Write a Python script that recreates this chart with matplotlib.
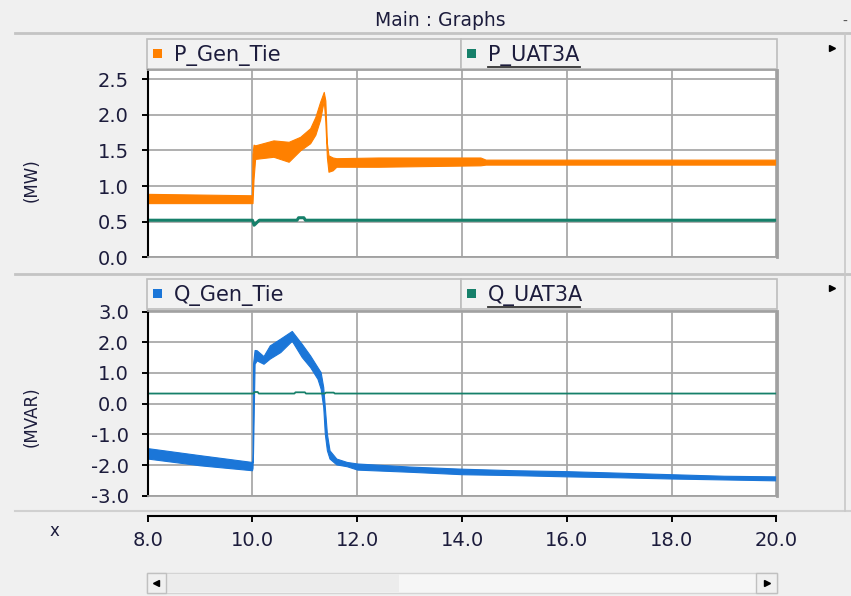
import matplotlib
matplotlib.use("Agg")
import matplotlib.pyplot as plt
from matplotlib.patches import Rectangle

# P_Gen_Tie (MW): banda inferior / superior de la senal
t_pgen = [8.0, 9.99, 10.0, 10.02, 10.05, 10.4, 10.69, 10.91, 11.1, 11.2, 11.29, 11.36,
          11.39, 11.42, 11.45, 11.53, 11.6, 12.4, 14.35, 14.45, 20.0]
pgen_lo = [0.76, 0.76, 0.76, 1.10, 1.38, 1.41, 1.34, 1.50, 1.60, 1.72, 1.93, 2.20,
           1.90, 1.40, 1.20, 1.22, 1.27, 1.27, 1.29, 1.30, 1.30]
pgen_hi = [0.89, 0.87, 1.45, 1.58, 1.57, 1.64, 1.62, 1.69, 1.81, 1.97, 2.18, 2.32,
           2.20, 1.60, 1.43, 1.40, 1.39, 1.40, 1.40, 1.37, 1.37]

# P_UAT3A (MW)
t_puat = [8.0, 10.0, 10.03, 10.06, 10.1, 10.13, 10.85, 10.88, 10.98, 11.01, 20.0]
puat = [0.52, 0.52, 0.45, 0.47, 0.50, 0.52, 0.52, 0.555, 0.555, 0.52, 0.52]

# Q_Gen_Tie (MVAR)
t_qgen = [8.0, 9.0, 9.99, 10.0, 10.01, 10.04, 10.08, 10.21, 10.33, 10.53, 10.75, 10.94,
          11.1, 11.24, 11.3, 11.35, 11.38, 11.42, 11.47, 11.6, 11.8, 12.0, 13.0, 14.0,
          15.0, 16.0, 17.0, 18.0, 19.0, 20.0]
qgen_lo = [-1.79, -2.01, -2.17, -2.10, -1.60, 1.30, 1.41, 1.30, 1.47, 1.68, 2.05, 1.52,
           1.19, 0.81, 0.49, -0.11, -0.98, -1.52, -1.79, -1.98, -2.04, -2.15, -2.22, -2.30,
           -2.33, -2.37, -2.40, -2.44, -2.47, -2.50]
qgen_hi = [-1.45, -1.68, -1.90, -1.90, 1.30, 1.75, 1.74, 1.55, 1.90, 2.12, 2.37, 1.95,
           1.57, 1.19, 1.03, 0.54, -0.11, -0.98, -1.52, -1.79, -1.90, -1.95, -2.05, -2.12,
           -2.17, -2.20, -2.25, -2.30, -2.35, -2.37]

# Q_UAT3A (MVAR)
t_quat = [8.0, 10.02, 10.04, 10.1, 10.12, 10.8, 10.82, 11.0, 11.02, 11.38, 11.4, 11.55, 11.57, 20.0]
quat = [0.33, 0.33, 0.38, 0.38, 0.33, 0.33, 0.37, 0.37, 0.33, 0.33, 0.36, 0.36, 0.33, 0.33]

x_ticks = [8.0, 10.0, 12.0, 14.0, 16.0, 18.0, 20.0]
p_ticks = [0.0, 0.5, 1.0, 1.5, 2.0, 2.5]
q_ticks = [-3.0, -2.0, -1.0, 0.0, 1.0, 2.0, 3.0]

c_orange = '#ff8000'
c_green = '#16806a'
c_blue = '#1b76d8'
c_text = '#1c1c3c'
c_grid = '#a9a9a9'
c_bg = '#f0f0f0'

W, H = 851, 596
fig = plt.figure(figsize=(W / 100, H / 100), dpi=100, facecolor=c_bg)


def box(left, top, right, bottom):
    return [left / W, 1 - bottom / H, (right - left) / W, (bottom - top) / H]


# fondo de la ventana (coordenadas en pixeles)
bg = fig.add_axes([0, 0, 1, 1], zorder=0)
bg.set_xlim(0, W)
bg.set_ylim(H, 0)
bg.axis('off')

bg.text(440, 20, "Main : Graphs", ha='center', va='center', fontsize=13.5, color=c_text)
bg.plot([15, W], [33, 33], color='#c4c4c4', lw=2)
bg.plot([15, W], [274, 274], color='#c4c4c4', lw=2)
bg.plot([15, W], [511, 511], color='#d0d0d0', lw=1.5)
bg.plot([845, 845], [33, 511], color='#c8c8c8', lw=1.2)
bg.text(845, 22, "-", ha='center', va='center', fontsize=10, color='#555555')


def legend_bar(top, names, colors, underline):
    edges = [147, 461, 777]
    for i in range(2):
        bg.add_patch(Rectangle((edges[i], top), edges[i + 1] - edges[i], 30,
                               facecolor='#f2f2f2', edgecolor='#bdbdbd', lw=1.2))
        x0 = edges[i] + 6
        bg.add_patch(Rectangle((x0, top + 10), 9, 9, facecolor=colors[i], edgecolor='none'))
        bg.text(x0 + 21, top + 16, names[i], ha='left', va='center', fontsize=15, color=c_text)
        if underline[i]:
            bg.plot([x0 + 21, x0 + 113], [top + 28, top + 28], color='#333333', lw=1.3)
    bg.plot([832], [top + 9], marker='>', color='black', ms=5)


legend_bar(39, ["P_Gen_Tie", "P_UAT3A"], [c_orange, c_green], [False, True])
legend_bar(279, ["Q_Gen_Tie", "Q_UAT3A"], [c_blue, c_green], [False, True])

bg.text(32, 180, "(MW)", rotation=90, ha='center', va='center', fontsize=12, color=c_text)
bg.text(32, 417, "(MVAR)", rotation=90, ha='center', va='center', fontsize=12, color=c_text)
bg.text(54, 531, "x", ha='center', va='center', fontsize=12, color=c_text)

# barra de desplazamiento
bg.add_patch(Rectangle((147, 573), 630, 20, facecolor='#f6f6f6', edgecolor='#d4d4d4', lw=1))
bg.add_patch(Rectangle((166, 574), 233, 18, facecolor='#ececec', edgecolor='none', hatch='....'))
bg.add_patch(Rectangle((147, 573), 19, 20, facecolor='#f0f0f0', edgecolor='#c0c0c0', lw=1))
bg.add_patch(Rectangle((756, 573), 21, 20, facecolor='#f0f0f0', edgecolor='#c0c0c0', lw=1))
bg.plot([156], [583], marker='<', color='black', ms=4)
bg.plot([767], [583], marker='>', color='black', ms=4)


def setup(ax, ticks, ylim):
    ax.set_facecolor('white')
    ax.set_xlim(8, 20)
    ax.set_ylim(*ylim)
    ax.set_xticks(x_ticks)
    ax.set_yticks(ticks)
    ax.set_yticklabels([f"{v:.1f}" for v in ticks])
    ax.set_axisbelow(True)
    ax.grid(True, color=c_grid, lw=1.3)
    ax.tick_params(axis='x', length=0, labelbottom=False)
    ax.tick_params(axis='y', length=4.5, width=1.4, pad=9, labelsize=14, labelcolor=c_text)
    for s in ['top', 'right', 'bottom']:
        ax.spines[s].set_color('#a0a0a0')
        ax.spines[s].set_linewidth(1.3)
    ax.spines['right'].set_linewidth(2)
    ax.spines['left'].set_color('black')
    ax.spines['left'].set_linewidth(1.5)


ax1 = fig.add_axes(box(147.7, 69.8, 776.5, 257.3), zorder=1)
setup(ax1, p_ticks, (0, 2.63))
ax1.fill_between(t_pgen, pgen_lo, pgen_hi, color=c_orange, lw=0.8)
ax1.plot(t_puat, puat, color=c_green, lw=2.2)

ax2 = fig.add_axes(box(147.7, 310.7, 776.5, 495.7), zorder=1)
setup(ax2, q_ticks, (-3.0, 3.03))
ax2.fill_between(t_qgen, qgen_lo, qgen_hi, color=c_blue, lw=0.8)
ax2.plot(t_quat, quat, color=c_green, lw=1.3)

# eje x comun
ax_x = fig.add_axes(box(147.7, 505, 776.5, 516), zorder=2)
ax_x.set_facecolor('none')
ax_x.set_xlim(8, 20)
ax_x.set_xticks(x_ticks)
ax_x.set_xticklabels([f"{v:.1f}" for v in x_ticks])
ax_x.set_yticks([])
for s in ['top', 'right', 'left']:
    ax_x.spines[s].set_visible(False)
ax_x.spines['bottom'].set_linewidth(1.5)
ax_x.tick_params(axis='x', length=4.5, width=1.4, pad=6, labelsize=14, labelcolor=c_text)

fig.savefig("out.png", dpi=100, facecolor=c_bg)
